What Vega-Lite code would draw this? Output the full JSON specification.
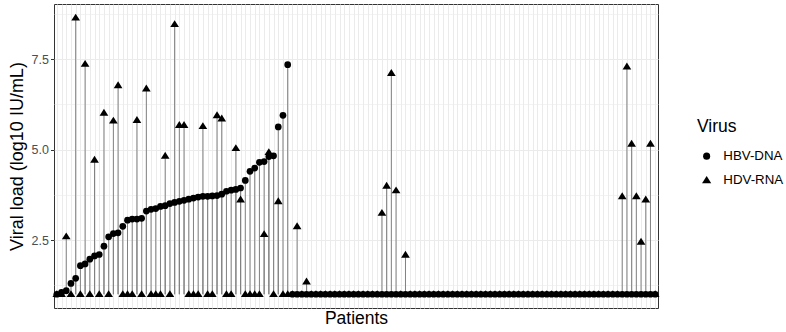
{
 "$schema": "https://vega.github.io/schema/vega-lite/v6.json",
 "width": 604, "height": 304,
 "autosize": {"type": "none"},
 "padding": {"left": 54, "top": 4, "right": 128, "bottom": 24},
 "background": "white",
 "config": {"view": {"stroke": "#333333", "strokeWidth": 1}, "font": "Liberation Sans"},
 "data": {"values": [
{"p":1,"v":"HBV-DNA","y":1.0},{"p":2,"v":"HBV-DNA","y":1.05},{"p":3,"v":"HBV-DNA","y":1.1},{"p":4,"v":"HBV-DNA","y":1.3},{"p":5,"v":"HBV-DNA","y":1.44},
{"p":6,"v":"HBV-DNA","y":1.79},{"p":7,"v":"HBV-DNA","y":1.84},{"p":8,"v":"HBV-DNA","y":1.97},{"p":9,"v":"HBV-DNA","y":2.06},{"p":10,"v":"HBV-DNA","y":2.1},
{"p":11,"v":"HBV-DNA","y":2.33},{"p":12,"v":"HBV-DNA","y":2.59},{"p":13,"v":"HBV-DNA","y":2.68},{"p":14,"v":"HBV-DNA","y":2.7},{"p":15,"v":"HBV-DNA","y":2.88},
{"p":16,"v":"HBV-DNA","y":3.05},{"p":17,"v":"HBV-DNA","y":3.08},{"p":18,"v":"HBV-DNA","y":3.08},{"p":19,"v":"HBV-DNA","y":3.1},{"p":20,"v":"HBV-DNA","y":3.3},
{"p":21,"v":"HBV-DNA","y":3.35},{"p":22,"v":"HBV-DNA","y":3.37},{"p":23,"v":"HBV-DNA","y":3.43},{"p":24,"v":"HBV-DNA","y":3.45},{"p":25,"v":"HBV-DNA","y":3.51},
{"p":26,"v":"HBV-DNA","y":3.54},{"p":27,"v":"HBV-DNA","y":3.57},{"p":28,"v":"HBV-DNA","y":3.6},{"p":29,"v":"HBV-DNA","y":3.63},{"p":30,"v":"HBV-DNA","y":3.66},
{"p":31,"v":"HBV-DNA","y":3.69},{"p":32,"v":"HBV-DNA","y":3.71},{"p":33,"v":"HBV-DNA","y":3.71},{"p":34,"v":"HBV-DNA","y":3.72},{"p":35,"v":"HBV-DNA","y":3.73},
{"p":36,"v":"HBV-DNA","y":3.77},{"p":37,"v":"HBV-DNA","y":3.85},{"p":38,"v":"HBV-DNA","y":3.88},{"p":39,"v":"HBV-DNA","y":3.9},{"p":40,"v":"HBV-DNA","y":3.94},
{"p":41,"v":"HBV-DNA","y":4.15},{"p":42,"v":"HBV-DNA","y":4.4},{"p":43,"v":"HBV-DNA","y":4.49},{"p":44,"v":"HBV-DNA","y":4.65},{"p":45,"v":"HBV-DNA","y":4.67},
{"p":46,"v":"HBV-DNA","y":4.81},{"p":47,"v":"HBV-DNA","y":4.83},{"p":48,"v":"HBV-DNA","y":5.63},{"p":49,"v":"HBV-DNA","y":5.95},{"p":50,"v":"HBV-DNA","y":7.35},
{"p":51,"v":"HBV-DNA","y":1},{"p":52,"v":"HBV-DNA","y":1},{"p":53,"v":"HBV-DNA","y":1},{"p":54,"v":"HBV-DNA","y":1},{"p":55,"v":"HBV-DNA","y":1},
{"p":56,"v":"HBV-DNA","y":1},{"p":57,"v":"HBV-DNA","y":1},{"p":58,"v":"HBV-DNA","y":1},{"p":59,"v":"HBV-DNA","y":1},{"p":60,"v":"HBV-DNA","y":1},
{"p":61,"v":"HBV-DNA","y":1},{"p":62,"v":"HBV-DNA","y":1},{"p":63,"v":"HBV-DNA","y":1},{"p":64,"v":"HBV-DNA","y":1},{"p":65,"v":"HBV-DNA","y":1},
{"p":66,"v":"HBV-DNA","y":1},{"p":67,"v":"HBV-DNA","y":1},{"p":68,"v":"HBV-DNA","y":1},{"p":69,"v":"HBV-DNA","y":1},{"p":70,"v":"HBV-DNA","y":1},
{"p":71,"v":"HBV-DNA","y":1},{"p":72,"v":"HBV-DNA","y":1},{"p":73,"v":"HBV-DNA","y":1},{"p":74,"v":"HBV-DNA","y":1},{"p":75,"v":"HBV-DNA","y":1},
{"p":76,"v":"HBV-DNA","y":1},{"p":77,"v":"HBV-DNA","y":1},{"p":78,"v":"HBV-DNA","y":1},{"p":79,"v":"HBV-DNA","y":1},{"p":80,"v":"HBV-DNA","y":1},
{"p":81,"v":"HBV-DNA","y":1},{"p":82,"v":"HBV-DNA","y":1},{"p":83,"v":"HBV-DNA","y":1},{"p":84,"v":"HBV-DNA","y":1},{"p":85,"v":"HBV-DNA","y":1},
{"p":86,"v":"HBV-DNA","y":1},{"p":87,"v":"HBV-DNA","y":1},{"p":88,"v":"HBV-DNA","y":1},{"p":89,"v":"HBV-DNA","y":1},{"p":90,"v":"HBV-DNA","y":1},
{"p":91,"v":"HBV-DNA","y":1},{"p":92,"v":"HBV-DNA","y":1},{"p":93,"v":"HBV-DNA","y":1},{"p":94,"v":"HBV-DNA","y":1},{"p":95,"v":"HBV-DNA","y":1},
{"p":96,"v":"HBV-DNA","y":1},{"p":97,"v":"HBV-DNA","y":1},{"p":98,"v":"HBV-DNA","y":1},{"p":99,"v":"HBV-DNA","y":1},{"p":100,"v":"HBV-DNA","y":1},
{"p":101,"v":"HBV-DNA","y":1},{"p":102,"v":"HBV-DNA","y":1},{"p":103,"v":"HBV-DNA","y":1},{"p":104,"v":"HBV-DNA","y":1},{"p":105,"v":"HBV-DNA","y":1},
{"p":106,"v":"HBV-DNA","y":1},{"p":107,"v":"HBV-DNA","y":1},{"p":108,"v":"HBV-DNA","y":1},{"p":109,"v":"HBV-DNA","y":1},{"p":110,"v":"HBV-DNA","y":1},
{"p":111,"v":"HBV-DNA","y":1},{"p":112,"v":"HBV-DNA","y":1},{"p":113,"v":"HBV-DNA","y":1},{"p":114,"v":"HBV-DNA","y":1},{"p":115,"v":"HBV-DNA","y":1},
{"p":116,"v":"HBV-DNA","y":1},{"p":117,"v":"HBV-DNA","y":1},{"p":118,"v":"HBV-DNA","y":1},{"p":119,"v":"HBV-DNA","y":1},{"p":120,"v":"HBV-DNA","y":1},
{"p":121,"v":"HBV-DNA","y":1},{"p":122,"v":"HBV-DNA","y":1},{"p":123,"v":"HBV-DNA","y":1},{"p":124,"v":"HBV-DNA","y":1},{"p":125,"v":"HBV-DNA","y":1},
{"p":126,"v":"HBV-DNA","y":1},{"p":127,"v":"HBV-DNA","y":1},{"p":128,"v":"HBV-DNA","y":1},
{"p":1,"v":"HDV-RNA","y":1},{"p":2,"v":"HDV-RNA","y":1},{"p":3,"v":"HDV-RNA","y":2.6},{"p":4,"v":"HDV-RNA","y":1},{"p":5,"v":"HDV-RNA","y":8.65},
{"p":6,"v":"HDV-RNA","y":1},{"p":7,"v":"HDV-RNA","y":7.37},{"p":8,"v":"HDV-RNA","y":1},{"p":9,"v":"HDV-RNA","y":4.72},{"p":10,"v":"HDV-RNA","y":1},
{"p":11,"v":"HDV-RNA","y":6.02},{"p":12,"v":"HDV-RNA","y":1},{"p":13,"v":"HDV-RNA","y":5.8},{"p":14,"v":"HDV-RNA","y":6.78},{"p":15,"v":"HDV-RNA","y":1},
{"p":16,"v":"HDV-RNA","y":1},{"p":17,"v":"HDV-RNA","y":1},{"p":18,"v":"HDV-RNA","y":5.82},{"p":19,"v":"HDV-RNA","y":1},{"p":20,"v":"HDV-RNA","y":6.69},
{"p":21,"v":"HDV-RNA","y":1},{"p":22,"v":"HDV-RNA","y":1},{"p":23,"v":"HDV-RNA","y":1},{"p":24,"v":"HDV-RNA","y":4.83},{"p":25,"v":"HDV-RNA","y":1},
{"p":26,"v":"HDV-RNA","y":8.47},{"p":27,"v":"HDV-RNA","y":5.68},{"p":28,"v":"HDV-RNA","y":5.68},{"p":29,"v":"HDV-RNA","y":1},{"p":30,"v":"HDV-RNA","y":1},
{"p":31,"v":"HDV-RNA","y":1},{"p":32,"v":"HDV-RNA","y":5.65},{"p":33,"v":"HDV-RNA","y":1},{"p":34,"v":"HDV-RNA","y":1},{"p":35,"v":"HDV-RNA","y":5.95},
{"p":36,"v":"HDV-RNA","y":5.86},{"p":37,"v":"HDV-RNA","y":1},{"p":38,"v":"HDV-RNA","y":1},{"p":39,"v":"HDV-RNA","y":5.04},{"p":40,"v":"HDV-RNA","y":3.62},
{"p":41,"v":"HDV-RNA","y":1},{"p":42,"v":"HDV-RNA","y":1},{"p":43,"v":"HDV-RNA","y":1},{"p":44,"v":"HDV-RNA","y":1},{"p":45,"v":"HDV-RNA","y":2.66},
{"p":46,"v":"HDV-RNA","y":4.93},{"p":47,"v":"HDV-RNA","y":1},{"p":48,"v":"HDV-RNA","y":3.57},{"p":49,"v":"HDV-RNA","y":1},{"p":50,"v":"HDV-RNA","y":1},
{"p":51,"v":"HDV-RNA","y":1},{"p":52,"v":"HDV-RNA","y":2.88},{"p":53,"v":"HDV-RNA","y":1},{"p":54,"v":"HDV-RNA","y":1.35},{"p":55,"v":"HDV-RNA","y":1},
{"p":56,"v":"HDV-RNA","y":1},{"p":57,"v":"HDV-RNA","y":1},{"p":58,"v":"HDV-RNA","y":1},{"p":59,"v":"HDV-RNA","y":1},{"p":60,"v":"HDV-RNA","y":1},
{"p":61,"v":"HDV-RNA","y":1},{"p":62,"v":"HDV-RNA","y":1},{"p":63,"v":"HDV-RNA","y":1},{"p":64,"v":"HDV-RNA","y":1},{"p":65,"v":"HDV-RNA","y":1},
{"p":66,"v":"HDV-RNA","y":1},{"p":67,"v":"HDV-RNA","y":1},{"p":68,"v":"HDV-RNA","y":1},{"p":69,"v":"HDV-RNA","y":1},{"p":70,"v":"HDV-RNA","y":3.25},
{"p":71,"v":"HDV-RNA","y":4.0},{"p":72,"v":"HDV-RNA","y":7.12},{"p":73,"v":"HDV-RNA","y":3.87},{"p":74,"v":"HDV-RNA","y":1},{"p":75,"v":"HDV-RNA","y":2.09},
{"p":76,"v":"HDV-RNA","y":1},{"p":77,"v":"HDV-RNA","y":1},{"p":78,"v":"HDV-RNA","y":1},{"p":79,"v":"HDV-RNA","y":1},{"p":80,"v":"HDV-RNA","y":1},
{"p":81,"v":"HDV-RNA","y":1},{"p":82,"v":"HDV-RNA","y":1},{"p":83,"v":"HDV-RNA","y":1},{"p":84,"v":"HDV-RNA","y":1},{"p":85,"v":"HDV-RNA","y":1},
{"p":86,"v":"HDV-RNA","y":1},{"p":87,"v":"HDV-RNA","y":1},{"p":88,"v":"HDV-RNA","y":1},{"p":89,"v":"HDV-RNA","y":1},{"p":90,"v":"HDV-RNA","y":1},
{"p":91,"v":"HDV-RNA","y":1},{"p":92,"v":"HDV-RNA","y":1},{"p":93,"v":"HDV-RNA","y":1},{"p":94,"v":"HDV-RNA","y":1},{"p":95,"v":"HDV-RNA","y":1},
{"p":96,"v":"HDV-RNA","y":1},{"p":97,"v":"HDV-RNA","y":1},{"p":98,"v":"HDV-RNA","y":1},{"p":99,"v":"HDV-RNA","y":1},{"p":100,"v":"HDV-RNA","y":1},
{"p":101,"v":"HDV-RNA","y":1},{"p":102,"v":"HDV-RNA","y":1},{"p":103,"v":"HDV-RNA","y":1},{"p":104,"v":"HDV-RNA","y":1},{"p":105,"v":"HDV-RNA","y":1},
{"p":106,"v":"HDV-RNA","y":1},{"p":107,"v":"HDV-RNA","y":1},{"p":108,"v":"HDV-RNA","y":1},{"p":109,"v":"HDV-RNA","y":1},{"p":110,"v":"HDV-RNA","y":1},
{"p":111,"v":"HDV-RNA","y":1},{"p":112,"v":"HDV-RNA","y":1},{"p":113,"v":"HDV-RNA","y":1},{"p":114,"v":"HDV-RNA","y":1},{"p":115,"v":"HDV-RNA","y":1},
{"p":116,"v":"HDV-RNA","y":1},{"p":117,"v":"HDV-RNA","y":1},{"p":118,"v":"HDV-RNA","y":1},{"p":119,"v":"HDV-RNA","y":1},{"p":120,"v":"HDV-RNA","y":1},
{"p":121,"v":"HDV-RNA","y":3.71},{"p":122,"v":"HDV-RNA","y":7.3},{"p":123,"v":"HDV-RNA","y":5.16},{"p":124,"v":"HDV-RNA","y":3.71},{"p":125,"v":"HDV-RNA","y":2.45},
{"p":126,"v":"HDV-RNA","y":3.62},{"p":127,"v":"HDV-RNA","y":5.16},{"p":128,"v":"HDV-RNA","y":1}
 ]},
 "encoding": {
  "x": {"field": "p", "type": "ordinal", "scale": {"type": "point", "padding": 0.6},
        "title": "Patients",
        "axis": {"labels": false, "ticks": false, "domain": false, "grid": true, "gridColor": "#ebebeb", "gridWidth": 1,
                 "titleFontSize": 17.5, "titleFontWeight": "normal", "titleColor": "black", "titlePadding": 1}},
  "y": {"field": "y", "type": "quantitative",
        "scale": {"domain": [0.62, 9.03], "nice": false, "zero": false},
        "title": "Viral load (log10 IU/mL)",
        "axis": {"values": [1.25, 2.5, 3.75, 5, 6.25, 7.5, 8.75],
                 "labelExpr": "datum.value % 2.5 == 0 ? format(datum.value, '.1f') : ''",
                 "domain": false, "grid": true, "gridColor": "#ebebeb",
                 "gridWidth": {"condition": {"test": "datum.value % 2.5 == 0", "value": 1}, "value": 0.6},
                 "tickOpacity": {"condition": {"test": "datum.value % 2.5 == 0", "value": 1}, "value": 0},
                 "tickColor": "#333333", "tickSize": 3.5, "labelColor": "#4d4d4d", "labelFontSize": 12.5, "labelPadding": 2,
                 "titleFontSize": 18, "titleFontWeight": "normal", "titleColor": "black", "titlePadding": 5}}
 },
 "layer": [
  {"mark": {"type": "rule", "color": "#808080", "strokeWidth": 1},
   "encoding": {"y2": {"datum": 1}}},
  {"mark": {"type": "point", "filled": true, "color": "black", "opacity": 1, "size": 45},
   "encoding": {"shape": {"field": "v", "type": "nominal", "title": "Virus",
     "scale": {"range": ["circle", "M0,-1.2L1.3,0.85L-1.3,0.85Z"]},
     "legend": {"orient": "none", "legendX": 643, "legendY": 114, "titleFontSize": 17.5, "titleFontWeight": "normal", "titleColor": "black",
                "labelFontSize": 13.3, "labelColor": "black", "symbolFillColor": "black", "symbolStrokeWidth": 0, "symbolSize": 50,
                "symbolOffset": 3, "labelOffset": 10,
                "rowPadding": 10, "titlePadding": 14}}}}
 ]
}
